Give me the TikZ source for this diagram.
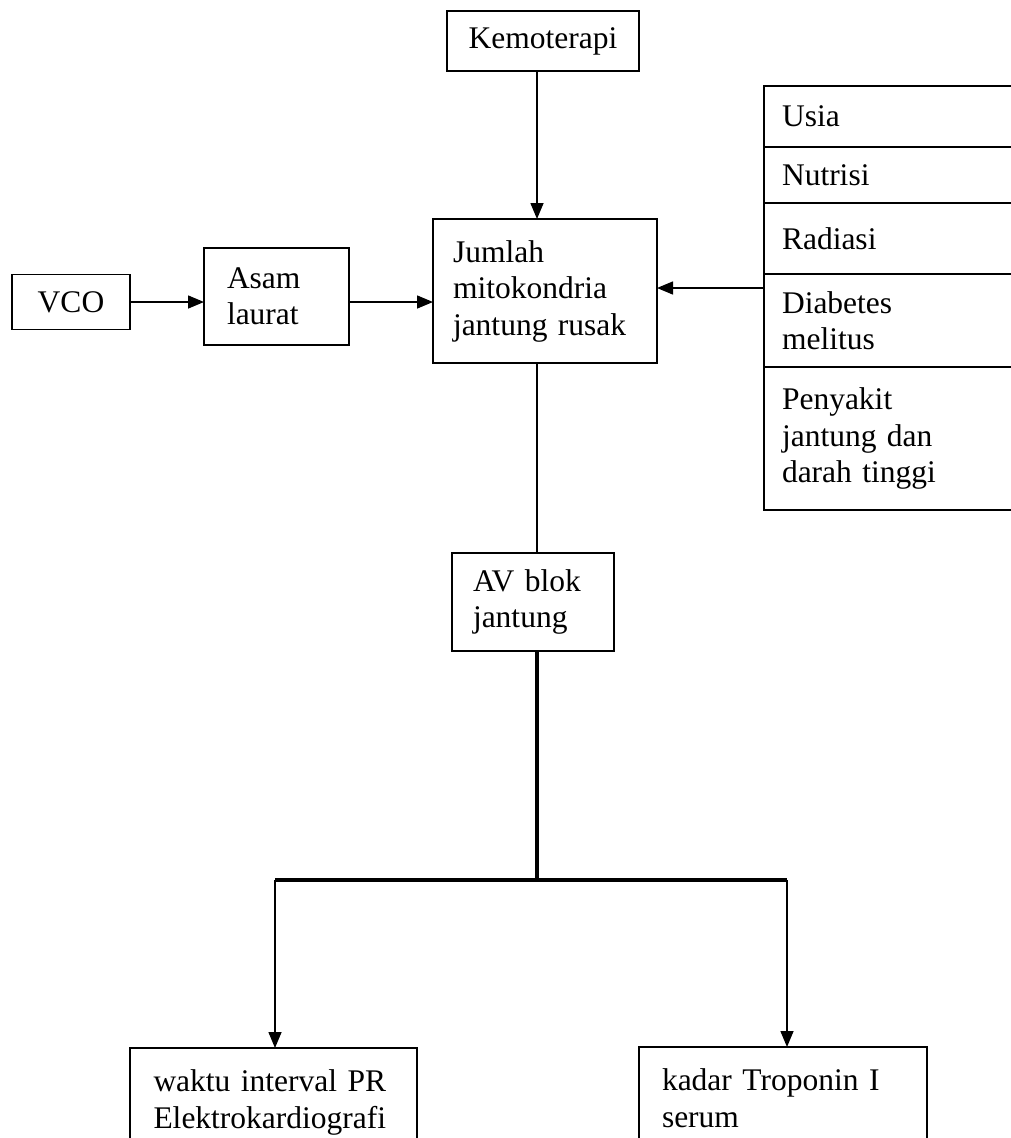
\documentclass[tikz,border=0pt]{standalone}
\usepackage{fontspec}
\setmainfont{Liberation Serif}
\usetikzlibrary{arrows.meta}
\begin{document}
\begin{tikzpicture}[x=1pt,y=-1pt,
  lw/.style={line width=1.5pt},
  box/.style={draw,lw,rectangle,outer sep=0pt,font=\fontsize{31.5pt}{36.5pt}\selectfont,inner ysep=0pt},
  lbox/.style={box,align=left},
  row/.style={lbox,anchor=north west,text width=244pt,inner xsep=18pt},
  arr/.style={lw,-{Triangle[length=16pt,width=13pt]}},
  heavy/.style={line width=4pt}]
\useasboundingbox (0,0) rectangle (1011,1138);
\clip (0,0) rectangle (1011,1138);

\node[box,minimum width=192pt,minimum height=60pt] (kemo) at (543,41) {Kemoterapi};
\node[lbox,text width=184pt,inner xsep=20pt,minimum height=144pt] (jumlah) at (545,291) {Jumlah\\mitokondria\\jantung rusak};
\node[box,minimum width=118pt,minimum height=55pt,inner xsep=0pt] (vco) at (71,302) {VCO};
\node[lbox,text width=99pt,inner xsep=23pt,minimum height=97pt] (asam) at (276.5,296.5) {Asam\\laurat};
\node[lbox,text width=120pt,inner xsep=21pt,minimum height=98pt] (av) at (533,602) {AV blok\\jantung};

\node[row,minimum height=61pt] (usia) at (764,86) {Usia};
\node[row,minimum height=56pt] (nutrisi) at (usia.south west) {Nutrisi};
\node[row,minimum height=71pt] (radiasi) at (nutrisi.south west) {Radiasi};
\node[row,minimum height=93pt] (diabetes) at (radiasi.south west) {Diabetes\\melitus};
\node[row,minimum height=143pt] (penyakit) at (diabetes.south west) {Penyakit\\jantung dan\\darah tinggi};

\node[lbox,anchor=north west,text width=240pt,inner xsep=23.5pt,inner ysep=22pt] (waktu) at (130,1048) {waktu interval PR\\Elektrokardiografi};
\node[lbox,anchor=north west,text width=242pt,inner xsep=23pt,inner ysep=22pt] (kadar) at (639,1047) {kadar Troponin I\\serum};

\coordinate (vx) at (537,0);
\coordinate (ly) at (0,288);
\coordinate (hub) at (537,880);
\coordinate (bl) at (275,880);
\coordinate (br) at (787,880);

\draw[arr] (kemo.south -| vx) -- (jumlah.north -| vx);
\draw[lw] (jumlah.south -| vx) -- (av.north -| vx);
\draw[arr] (vco.east) -- (asam.west |- vco.east);
\draw[arr] (asam.east |- vco.east) -- (jumlah.west |- vco.east);
\draw[arr] (diabetes.west |- ly) -- (jumlah.east |- ly);
\draw[heavy] (av.south -| vx) -- (hub);
\draw[heavy] (bl) -- (br);
\draw[arr] (bl) -- (waktu.north -| bl);
\draw[arr] (br) -- (kadar.north -| br);
\end{tikzpicture}
\end{document}
